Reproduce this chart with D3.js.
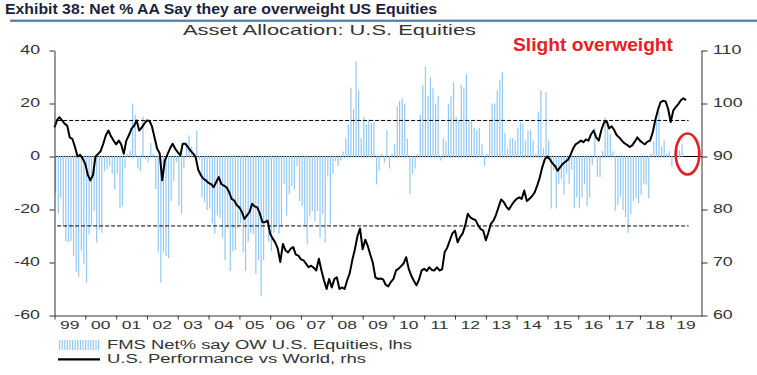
<!DOCTYPE html>
<html><head><meta charset="utf-8">
<script src="https://cdn.jsdelivr.net/npm/d3@7"></script>
<style>body{margin:0;background:#fff}svg{display:block}</style>
</head><body>
<svg id="c" width="757" height="375"></svg>
<script>
// ---------- data ----------
const startYear = 1999;
const yearLabels = ["99","00","01","02","03","04","05","06","07","08","09","10","11","12","13","14","15","16","17","18","19"];
const leftTicks = [40, 20, 0, -20, -40, -60];
const rightTicks = [110, 100, 90, 80, 70, 60];
const refLevels = [13.6, -26.2];   // dashed reference lines (lhs)

// FMS Net% say OW U.S. Equities (lhs), monthly from Jan 1999
const fmsNetOW = [
 -13.5,-21.4,-15.3,-25.7,-31.7,-32.3,-31.7,-37.4,-43.3,-45.2,-35.5,-40.3,
 -47.4,-29.2,-26,-20.4,-32.3,-27.3,-28.6,-5.3,-4.7,-3.4,-6.3,-12.2,
 -6.3,-19.4,-18.5,-4.3,1,2.3,20,15.8,-4.4,-5.3,15,-1,
 -2,5,1,-12,-36,-47.4,-36,-37.4,-38.2,-16.6,-9,-2,
 -18.4,-21.4,-4.3,5.4,8,3.8,1,9.8,-1,-15.3,-17,-20,
 -19.5,-25,-29,-22,-23,-30.4,-39,-27,-43,-35.5,-35,-27,
 -25,-36,-43,-32,-28.5,-29,-44,-39,-52.5,-39,-24.8,-32,
 -35.5,-28.5,-26,-29,-26,-10.3,-22,-14,-11,-12.2,-3.4,-16.6,
 -18.5,-25.7,-33,-22.5,-20.4,-24.4,-20.4,-30.4,-21.6,-32.3,-7.4,-25.4,
 -6.3,-1.5,-3.4,-1.3,1.9,6.9,12,26,18,36,25,7,
 15,12,14,12.7,13,-10.3,-5.3,1,-2.1,9.8,-4.4,1,
 4.8,18.9,21,21.8,20,6.7,-14,-6.3,-4.4,1,15.8,27,
 34,23,30,26,20,23,-1.3,6.9,6,20,23,28,
 15,13.8,27,26,31,13.8,13,10.8,9.8,10.8,4.8,-3.4,
 1,13.8,20,20,25,29,32,9,3,6.9,6.9,6,
 10.8,13,12.6,6,9.8,9.8,6,1,17,24.9,3,24.3,
 6,-19.4,-5,-19.4,-10.3,-8.4,-14,-6.3,-10.3,-4.7,-19.4,-15.3,
 -19.4,-15.3,-10.3,-18.5,-15.3,-3,10.8,-7.5,-7.5,2,14.6,13.6,
 8.5,2,-20.4,-18,-15,-20,-22.6,-28.7,-21.6,-16.6,-15.6,-17.6,
 -14.3,-10,-10.5,-15.6,1,5.8,13.6,17,3.8,6,1,2,
 -3.4,1,2.9,2.3,4.8
];

// U.S. Performance vs World (rhs), monthly from Jan 1999
const usPerfVsWorld = [
 95.5,96.9,97.4,96.8,96.2,95.8,93.6,93.3,91.8,90.0,90.3,89.6,
 88.6,86.5,85.5,86.5,90.0,90.5,91.0,92.4,94.0,94.9,93.8,93.0,
 92.3,93.0,92.3,90.5,93.0,94.0,95.2,95.8,96.8,94.9,95.5,96.2,
 96.8,96.7,95.7,93.6,91.5,90.6,85.5,89.2,90.4,91.5,92.4,91.5,
 90.8,90.2,92.4,92.4,91.8,91.1,90.6,89.9,87.5,86.5,85.8,85.5,
 85.0,84.8,84.2,85.2,86.1,84.8,84.5,84.2,83.3,82.0,81.7,80.8,
 80.4,79.5,78.2,78.9,79.5,81.1,80.6,80.4,79.2,77.6,77.6,77.9,
 75.4,74.5,73.8,72.6,70.1,73.5,72.3,71.9,72.6,72.9,71.5,71.3,
 70.6,70.4,69.8,69.1,69.4,69.0,68.5,70.7,68.5,66.6,65.0,66.9,
 65.3,66.9,67.2,65.0,65.3,65.0,66.6,68.0,70.5,72.5,75.0,76.4,
 72.5,74.3,73.2,71.5,70.0,67.2,66.9,67.0,66.8,65.8,65.5,66.3,
 66.9,68.5,68.8,69.3,69.8,71.0,68.8,67.5,66.5,65.7,66.8,68.5,
 68.8,68.4,69.1,68.6,68.5,69.1,68.5,68.7,72.0,72.8,74.2,75.5,
 76.0,73.8,74.8,75.5,77.0,79.2,78.5,78.2,78.0,77.0,76.3,76.0,
 74.2,75.7,77.3,77.9,79.0,80.5,81.9,81.4,80.5,80.0,80.8,81.5,
 82.0,82.3,82.0,83.6,81.6,82.0,82.5,83.2,84.5,86.0,88.0,89.5,
 90.0,89.4,88.7,88.2,87.3,88.0,88.6,89.0,89.4,90.3,91.5,92.3,
 92.6,93.0,92.7,93.2,93.0,94.2,94.9,93.6,93.0,95.0,96.4,96.7,
 95.3,95.7,95.0,94.0,93.6,93.0,92.5,92.2,91.8,92.1,92.8,93.6,
 93.0,92.6,92.3,92.8,93.0,94.5,96.8,98.7,100.2,100.5,100.4,99.0,
 96.5,98.7,99.3,99.9,100.6,101.0,100.6
];

// ---------- chart ----------
const svg = d3.select("#c");
const FONT = "'Liberation Sans', Arial, Helvetica, sans-serif";
const TXT = "#333";
const BAR = "#93c8f5";
const SX = 1.48; // horizontal stretch of the original's lettering

const x = d3.scaleTime().domain([new Date(startYear,0,1), new Date(startYear+yearLabels.length,0,1)]).range([54.5, 701.5]);
const yL = d3.scaleLinear().domain([-60, 40]).range([315.5, 50.5]);
const yR = d3.scaleLinear().domain([60, 110]).range([315.5, 50.5]);

const barData = fmsNetOW.map((v,i) => ({date: new Date(startYear, i, 15), v}));
const lineData = usPerfVsWorld.map((v,i) => ({date: new Date(startYear, i, 1), v}));

// title
svg.append("text").attr("x",5).attr("y",13.5)
  .attr("font-family","'Liberation Sans Narrow','Arial Narrow','Liberation Sans',sans-serif")
  .attr("font-weight","bold").attr("font-size",14.5).attr("fill","#1b1f3b")
  .attr("textLength",432).attr("lengthAdjust","spacingAndGlyphs")
  .text("Exhibit 38: Net % AA Say they are overweight US Equities");
svg.append("rect").attr("x",10).attr("y",19.6).attr("width",747).attr("height",2.3).attr("fill","#5b7fb0");

svg.append("text").attr("x",183).attr("y",35).attr("font-family",FONT).attr("font-size",14.5)
  .attr("fill",TXT).attr("textLength",293).attr("lengthAdjust","spacingAndGlyphs")
  .text("Asset Allocation: U.S. Equities");

// zero line (under bars)
svg.append("line").attr("x1",x.range()[0]).attr("x2",x.range()[1])
  .attr("y1",yL(0)).attr("y2",yL(0)).attr("stroke","#000").attr("stroke-width",1);

// bars
const y0 = yL(0);
svg.append("g").selectAll("rect").data(barData).join("rect")
  .attr("x", d => x(d.date) - 0.6).attr("width", 1.2)
  .attr("y", d => d.v >= 0 ? yL(d.v) : y0 - 0.5)
  .attr("height", d => Math.abs(yL(d.v) - y0) + 1)
  .attr("fill", BAR);

// dashed reference lines
svg.append("g").selectAll("line").data(refLevels).join("line")
  .attr("x1", x(new Date(1999,1,1))).attr("x2", x(new Date(2019,7,1)))
  .attr("y1", d => yL(d)).attr("y2", d => yL(d))
  .attr("stroke","#000").attr("stroke-width",1).attr("stroke-dasharray","4,2");

// performance line
svg.append("path").datum(lineData)
  .attr("d", d3.line().x(d => x(d.date)).y(d => yR(d.v)))
  .attr("fill","none").attr("stroke","#000").attr("stroke-width",2).attr("stroke-linejoin","round");

// axes
function styleAxis(g){
  g.attr("font-family",FONT).attr("font-size",12);
  g.select(".domain").attr("stroke","#333");
  g.selectAll(".tick line").attr("stroke","#333");
  g.selectAll(".tick text").attr("fill",TXT);
}
const gL = svg.append("g").attr("transform",`translate(${x.range()[0]},0)`)
  .call(d3.axisLeft(yL).tickValues(leftTicks).tickSize(5).tickSizeOuter(0).tickFormat(d => String(d)));
styleAxis(gL);
gL.selectAll(".tick text").attr("x",0).attr("dy","0.28em").attr("text-anchor","end")
  .attr("transform",`translate(-14.5,0) scale(${SX},1)`);

const gR = svg.append("g").attr("transform",`translate(${x.range()[1]},0)`)
  .call(d3.axisRight(yR).tickValues(rightTicks).tickSize(6).tickSizeOuter(0).tickFormat(d => String(d)));
styleAxis(gR);
gR.selectAll(".tick text").attr("x",0).attr("dy","0.28em").attr("text-anchor","start")
  .attr("transform",`translate(11.5,0) scale(${SX},1)`);

const yearStarts = yearLabels.map((_,i) => new Date(startYear+i,0,1));
const gB = svg.append("g").attr("transform",`translate(0,${yL(-60)})`)
  .call(d3.axisBottom(x).tickValues(yearStarts).tickSize(4).tickSizeOuter(0).tickFormat(""));
styleAxis(gB);

svg.append("g").selectAll("text").data(yearLabels).join("text")
  .attr("transform",(d,i) => `translate(${x(new Date(startYear+i,6,1))},328.7) scale(${SX},1)`)
  .attr("text-anchor","middle").attr("font-family",FONT).attr("font-size",11.8).attr("fill",TXT)
  .text(d => d);

// annotation
svg.append("text").attr("x",513).attr("y",50.7).attr("font-family",FONT).attr("font-weight","bold")
  .attr("font-size",19).attr("fill","#ec1c24").attr("textLength",160).attr("lengthAdjust","spacingAndGlyphs")
  .text("Slight overweight");
svg.append("ellipse").attr("cx",687.5).attr("cy",154).attr("rx",11.8).attr("ry",20.5)
  .attr("fill","none").attr("stroke","#e41e26").attr("stroke-width",2.6);

// legend
const lg = svg.append("g");
lg.selectAll("rect").data(d3.range(16)).join("rect")
  .attr("x", i => 59 + i*2.6).attr("y",340).attr("width",1.2).attr("height",10).attr("fill",BAR);
lg.append("text").attr("x",107).attr("y",349).attr("font-family",FONT).attr("font-size",12.3).attr("fill",TXT)
  .attr("textLength",305).attr("lengthAdjust","spacingAndGlyphs").text("FMS Net% say OW U.S. Equities, lhs");
lg.append("line").attr("x1",58).attr("x2",100).attr("y1",359.3).attr("y2",359.3).attr("stroke","#000").attr("stroke-width",2.2);
lg.append("text").attr("x",107).attr("y",362.5).attr("font-family",FONT).attr("font-size",12.3).attr("fill",TXT)
  .attr("textLength",259).attr("lengthAdjust","spacingAndGlyphs").text("U.S. Performance vs World, rhs");
</script>
</body></html>
